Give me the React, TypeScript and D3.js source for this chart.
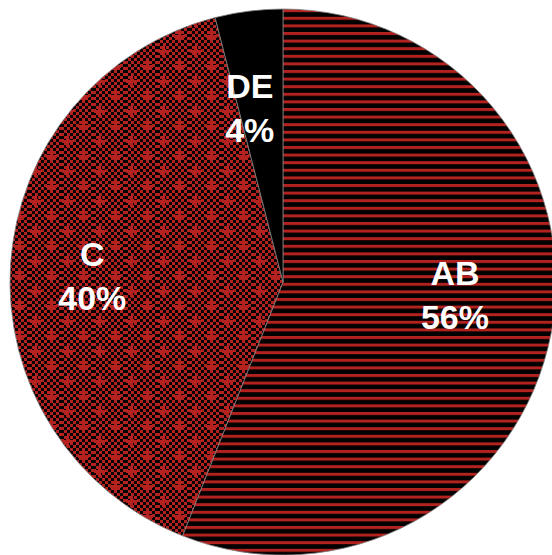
import React from "react";
import * as d3 from "d3";

const categories = ["AB", "C", "DE"];
const values = [56, 40, 4];
const percentLabels = ["56%", "40%", "4%"];
const fills = ["url(#stripes)", "url(#checker)", "#000000"];

const W = 552;
const H = 555;
const CX = 283;
const CY = 282;
const R = 273;
const RED = "#b3221f";

// label placement: fraction of radius along slice mid-angle, plus fine offsets
const labelRadius = [0.63, 0.7, 0.68];
const labelOffsets: [number, number][] = [
  [3, -29],
  [0, -4],
  [-10, 0],
];

export default function App() {
  const pie = d3
    .pie<number>()
    .sort(null)
    .value((d) => d)
    .startAngle(0)
    .endAngle(2 * Math.PI);
  const arcs = pie(values);
  const arcGen = d3.arc<d3.PieArcDatum<number>>().innerRadius(0).outerRadius(R);

  return (
    <svg
      width={W}
      height={H}
      style={{ position: "absolute", left: 0, top: 0, display: "block" }}
    >
      <defs>
        <pattern id="stripes" patternUnits="userSpaceOnUse" width={8} height={7.6} y={CY}>
          <rect x={0} y={0} width={8} height={7.6} fill="#000" />
          <rect x={0} y={0} width={8} height={3} fill={RED} />
        </pattern>
        <pattern id="checkbase" patternUnits="userSpaceOnUse" width={6} height={6}>
          <rect x={0} y={0} width={6} height={6} fill={RED} />
          <rect x={0} y={0} width={3} height={3} fill="#000" />
          <rect x={3} y={3} width={3} height={3} fill="#000" />
        </pattern>
        <pattern id="checker" patternUnits="userSpaceOnUse" width={32} height={30} x={2} y={4}>
          <rect x={0} y={0} width={32} height={30} fill="url(#checkbase)" />
          <rect x={5} y={0} width={3} height={11} fill={RED} />
          <rect x={1} y={4} width={11} height={3} fill={RED} />
          <rect x={21} y={15} width={3} height={11} fill={RED} />
          <rect x={17} y={19} width={11} height={3} fill={RED} />
        </pattern>
      </defs>
      <g transform={`translate(${CX},${CY})`}>
        {arcs.map((a, i) => (
          <path
            key={categories[i]}
            d={arcGen(a) || ""}
            fill={fills[i]}
            stroke="#808080"
            strokeWidth={0.8}
          />
        ))}
        {arcs.map((a, i) => {
          const mid = (a.startAngle + a.endAngle) / 2;
          const r = R * labelRadius[i];
          const x = Math.sin(mid) * r + labelOffsets[i][0];
          const y = -Math.cos(mid) * r + labelOffsets[i][1];
          return (
            <text
              key={"l" + categories[i]}
              x={x}
              y={y}
              textAnchor="middle"
              fill="#ffffff"
              fontFamily="'Liberation Sans', Arial, sans-serif"
              fontWeight="bold"
              fontSize={34}
            >
              <tspan x={x} dy={0}>{categories[i]}</tspan>
              <tspan x={x} dy={44}>{percentLabels[i]}</tspan>
            </text>
          );
        })}
      </g>
    </svg>
  );
}
